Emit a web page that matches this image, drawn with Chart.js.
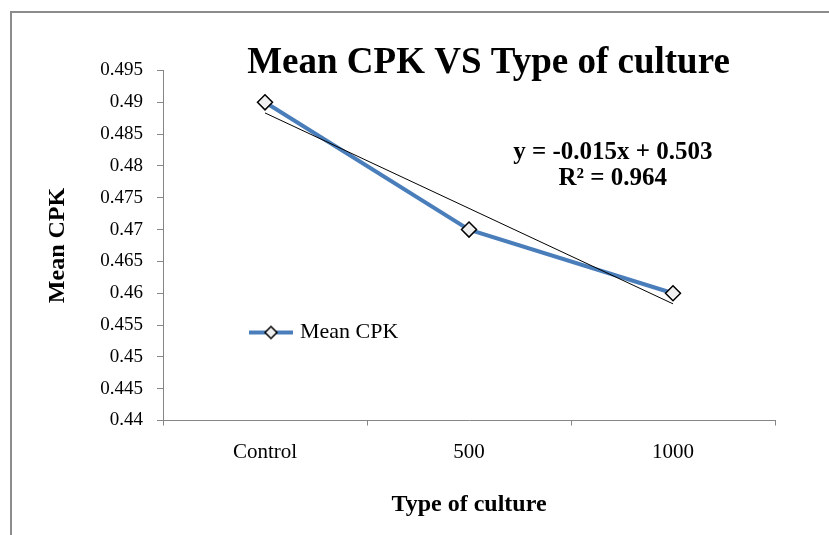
<!DOCTYPE html>
<html>
<head>
<meta charset="utf-8">
<title>Mean CPK VS Type of culture</title>
<script src="https://cdn.jsdelivr.net/npm/chart.js@4.4.1/dist/chart.umd.min.js"></script>
<style>
    html, body { margin: 0; padding: 0; background: #fff; overflow: hidden; }
    /* the original chart box is cropped on the right and at the bottom */
    .frame {
        position: absolute; left: 10px; top: 11px; width: 1000px; height: 600px;
        border-left: 2px solid #8c8c8c; border-top: 2px solid #8c8c8c;
    }
    #chart { position: absolute; left: 0; top: 0; }
</style>
</head>
<body>
<div class="frame"><canvas id="chart" width="953" height="522"></canvas></div>
<script>
// Données
const categories = ['Control', '500', '1000'];
const meanCpk = [0.49, 0.47, 0.46];
const yMin = 0.44;
const yMax = 0.495;
const yStep = 0.005;

const serif = "'Times New Roman', 'Liberation Serif', serif";
const lineBlue = '#4a7ebb';
const axisGray = '#868686';

// Courbe de tendance linéaire (moindres carrés, x = 1, 2, 3)
const xs = categories.map((c, i) => i + 1);
const mx = xs.reduce((a, b) => a + b, 0) / xs.length;
const my = meanCpk.reduce((a, b) => a + b, 0) / meanCpk.length;
let sxy = 0, sxx = 0, syy = 0;
xs.forEach((x, i) => {
    sxy += (x - mx) * (meanCpk[i] - my);
    sxx += (x - mx) * (x - mx);
    syy += (meanCpk[i] - my) * (meanCpk[i] - my);
});
const slope = sxy / sxx;
const intercept = my - slope * mx;
const trend = xs.map(x => slope * x + intercept);
const r2 = (sxy * sxy) / (sxx * syy);
const eqText = 'y = ' + slope.toFixed(3) + 'x + ' + intercept.toFixed(3);
const r2Text = 'R\u00b2 = ' + r2.toFixed(3);

// Icône de légende : trait bleu + losange
const legendIcon = document.createElement('canvas');
legendIcon.width = 44;
legendIcon.height = 18;
const ic = legendIcon.getContext('2d');
ic.strokeStyle = lineBlue;
ic.lineWidth = 4;
ic.beginPath();
ic.moveTo(0, 9);
ic.lineTo(44, 9);
ic.stroke();
ic.beginPath();
ic.moveTo(22, 3);
ic.lineTo(28, 9);
ic.lineTo(22, 15);
ic.lineTo(16, 9);
ic.closePath();
ic.fillStyle = '#f0f0f0';
ic.fill();
ic.lineWidth = 1.5;
ic.strokeStyle = '#000';
ic.stroke();

// Équation de la tendance
const trendLabel = {
    id: 'trendLabel',
    afterDatasetsDraw(chart) {
        const { ctx, chartArea: a } = chart;
        ctx.save();
        ctx.font = 'bold 25px ' + serif;
        ctx.fillStyle = '#000';
        ctx.textAlign = 'center';
        ctx.textBaseline = 'middle';
        const x = a.left + a.width * 0.735;
        ctx.fillText(eqText, x, a.top + a.height * 0.233);
        ctx.fillText(r2Text, x, a.top + a.height * 0.31);
        ctx.restore();
    }
};

Chart.defaults.font.family = serif;
Chart.defaults.color = '#000';

new Chart(document.getElementById('chart'), {
    type: 'line',
    data: {
        labels: categories,
        datasets: [
            {
                label: 'Linear (Mean CPK)',
                data: trend,
                borderColor: '#000',
                borderWidth: 1,
                pointRadius: 0,
                fill: false,
                order: 0
            },
            {
                label: 'Mean CPK',
                data: meanCpk,
                borderColor: lineBlue,
                backgroundColor: lineBlue,
                borderWidth: 4,
                tension: 0,
                pointStyle: 'rectRot',
                pointRadius: 7.5,
                pointHoverRadius: 7.5,
                pointBackgroundColor: '#f0f0f0',
                pointBorderColor: '#000',
                pointBorderWidth: 1.5,
                fill: false,
                order: 1
            }
        ]
    },
    options: {
        responsive: false,
        animation: false,
        events: [],
        layout: { padding: 0 },
        plugins: {
            title: {
                display: true,
                text: 'Mean CPK VS Type of culture',
                color: '#000',
                font: { size: 37, weight: 'bold', lineHeight: 0.4 },
                padding: { top: 42.6, bottom: 0.1 }
            },
            legend: {
                position: 'chartArea',
                align: 'start',
                title: {
                    display: true,
                    text: '',
                    font: { size: 10, lineHeight: 1 },
                    padding: { top: 208.5, bottom: 0 }
                },
                labels: {
                    filter: item => item.datasetIndex === 1,
                    usePointStyle: true,
                    pointStyle: legendIcon,
                    pointStyleWidth: 36,
                    padding: 90,
                    color: '#000',
                    font: { size: 22 }
                }
            },
            tooltip: { enabled: false }
        },
        scales: {
            x: {
                offset: true,
                grid: { display: true, drawOnChartArea: false, offset: true, tickLength: 5, color: axisGray },
                border: { color: axisGray, width: 1 },
                ticks: { color: '#000', font: { size: 21 }, padding: 14, maxRotation: 0 },
                title: {
                    display: true,
                    text: 'Type of culture',
                    color: '#000',
                    font: { size: 24, weight: 'bold' },
                    padding: { top: 0, bottom: 15.6 }
                },
                afterFit: s => { s.height = 114.5; }
            },
            y: {
                min: yMin,
                max: yMax,
                grid: { drawOnChartArea: false, tickLength: 6, color: axisGray },
                border: { color: axisGray, width: 1 },
                ticks: {
                    stepSize: yStep,
                    color: '#000',
                    font: { size: 19 },
                    padding: 14,
                    callback: v => String(+v.toFixed(3))
                },
                title: {
                    display: true,
                    text: 'Mean CPK',
                    color: '#000',
                    font: { size: 24, weight: 'bold' },
                    padding: { top: 31.6, bottom: 0 }
                },
                afterFit: s => { s.width = 151; }
            },
            // espace vide à droite (le cadre d'origine continue hors de l'image)
            yRight: {
                position: 'right',
                display: true,
                grid: { display: false },
                border: { display: false },
                ticks: { display: false },
                afterFit: s => { s.width = 190; }
            }
        }
    },
    plugins: [trendLabel]
});
</script>
</body>
</html>
